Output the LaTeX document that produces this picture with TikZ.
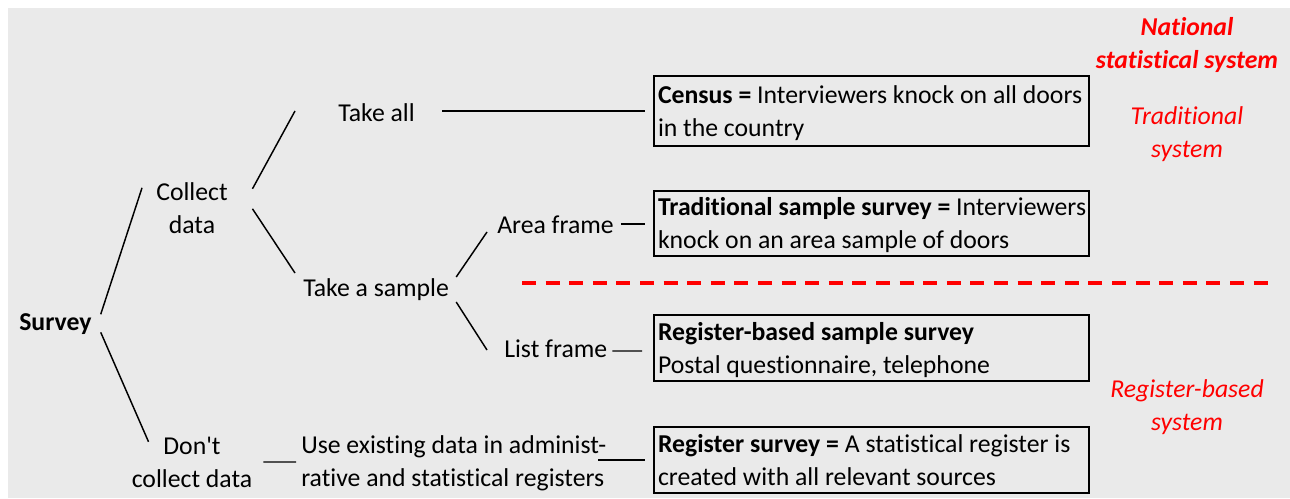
\documentclass[tikz,border=0pt]{standalone}
\usepackage{fontspec}
\setmainfont{Carlito}[Ligatures={TeXOff,NoCommon}]
\usetikzlibrary{calc}
\definecolor{panel}{HTML}{EAEAEA}
\definecolor{accent}{HTML}{FF0000}
% line strut: fixes the height/depth of every text line
\newcommand\ls{\rule[-3.5pt]{0pt}{20pt}}
% one unbreakable card line
\newcommand\cl[1]{\mbox{\ls#1}}

\begin{document}
\begin{tikzpicture}[x=0.75pt,y=-0.75pt,
  every node/.style={font=\fontsize{19.3}{24.75}\selectfont},
  txt/.style={inner sep=0pt, align=center},
  txtl/.style={inner sep=0pt, align=flush left},
  card/.style={draw, line width=1.5pt, inner xsep=3pt, inner ysep=0pt,
    text width=320.25pt, align=flush left, minimum height=49.5pt},
  link/.style={line width=1.1pt},
  note/.style={inner sep=0pt, align=center, text=accent}]

% canvas
\useasboundingbox (0,0) rectangle (1290,499);
\fill[panel] (8,8) rectangle (1290,498);

% tree labels
\node[txt, anchor=west] (survey) at (19,322.3) {\ls\textbf{Survey}};
\node[txt] (collect) at (192,208.8) {\ls Collect\\\ls data};
\node[txt] (dont) at (192,462.8) {\ls Don't\\\ls collect data};
\node[txt, anchor=west] (takeall) at (338,113.3) {\ls Take all};
\node[txt, anchor=west] (sample) at (303,288.3) {\ls Take a sample};
\node[txt, anchor=west] (area) at (497,225.3) {\ls Area frame};
\node[txt, anchor=west] (list) at (504,349.3) {\ls List frame};
\node[txtl, anchor=west] (use) at (301,461.8)
  {\ls Use existing data in administ-\\\ls rative and statistical registers};

% survey types
\node[card, minimum height=52.5pt] (census) at (871.5,111)
  {\cl{\textbf{Census =} Interviewers knock on all doors}\\\cl{in the country}};
\node[card, minimum height=48.75pt] (trad) at (871.5,223.5)
  {\cl{\textbf{Traditional sample survey =} Interviewers}\\\cl{knock on an area sample of doors}};
\node[card] (regb) at (871.5,348)
  {\cl{\textbf{Register-based sample survey}}\\\cl{Postal questionnaire, telephone}};
\node[card] (regs) at (871.5,460)
  {\cl{\textbf{Register survey =} A statistical register is}\\\cl{created with all relevant sources}};

% system labels
\node[note, font=\fontsize{19.3}{24.75}\selectfont\bfseries\itshape] (national) at (1187,43.8)
  {\ls National\\\ls statistical system};
\node[note, font=\fontsize{19.3}{24.75}\selectfont\itshape] (tradsys) at (1187,132.8)
  {\ls Traditional\\\ls system};
\node[note, font=\fontsize{19.3}{24.75}\selectfont\itshape] (regsys) at (1187,405.8)
  {\ls Register-based\\\ls system};

% divider between the two systems
\coordinate (divL) at (522,283);
\coordinate (divR) at (1268,283);
\draw[accent, line width=3pt, dash pattern=on 10.5pt off 7.2pt] (divL) -- (divR);

% branches
\draw[link] ($(survey.east)+(9,-8)$) -- ($(collect.west)+(-14,-21)$);
\draw[link] ($(survey.east)+(9,10)$) -- ($(dont.west)+(17,-21)$);
\draw[link] ($(collect.east)+(24.5,-20)$) -- ($(takeall.west)+(-43,-2.3)$);
\draw[link] ($(collect.east)+(24.5,0)$) -- ($(sample.west)+(-8,-15.3)$);
\draw[link] ($(takeall.east)+(27,-2.3)$) -- ($(census.west)+(-8,0)$);
\draw[link] ($(sample.east)+(7,-11.3)$) -- ($(area.west)+(-10,6.7)$);
\draw[link] ($(sample.east)+(7,13.7)$) -- ($(list.west)+(-17,0.7)$);
\draw[link] ($(area.east)+(7,-1.3)$) -- ($(trad.west)+(-8,0.5)$);
\draw[link] ($(list.east)+(5,1.7)$) -- ($(regb.west)+(-11,3)$);
\draw[link] ($(dont.east)+(11,-0.8)$) -- ($(use.west)+(-5,0.2)$);
\draw[link] ($(use.east)+(-8,-1.8)$) -- ($(regs.west)+(-8,0)$);
\end{tikzpicture}
\end{document}
